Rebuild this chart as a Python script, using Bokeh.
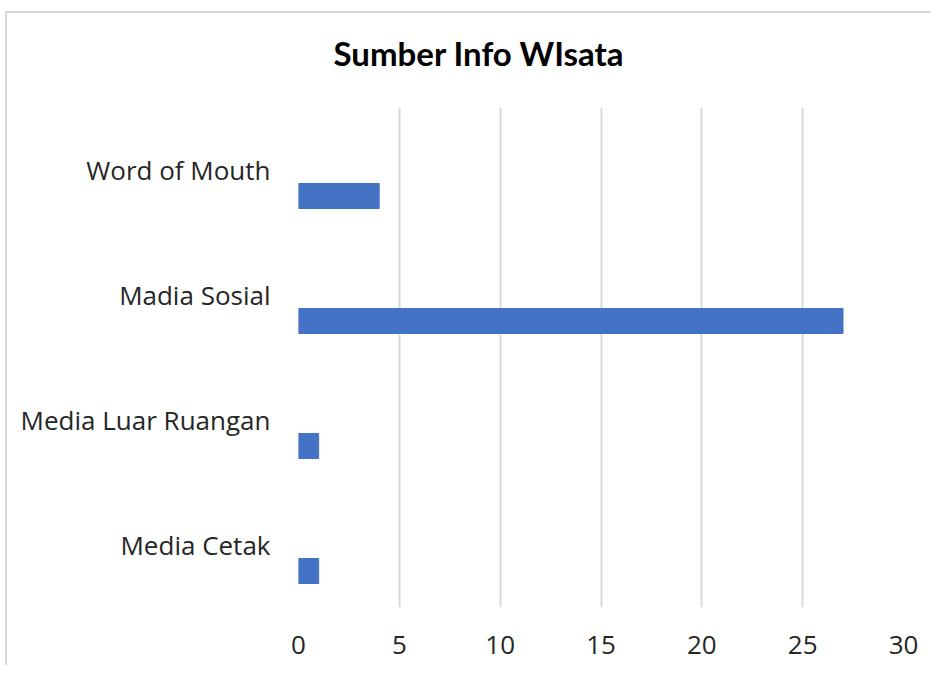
from bokeh.plotting import figure
from bokeh.models import FactorRange, Range1d, FixedTicker, Title
from bokeh.transform import dodge
from bokeh.embed import file_html
from bokeh.resources import INLINE

categories = ["Media Cetak", "Media Luar Ruangan", "Madia Sosial", "Word of Mouth"]
counts = [1, 1, 27, 4]
x_ticks = [0, 5, 10, 15, 20, 25, 30]
title_text = "Sumber Info WIsata"

p = figure(
    y_range=FactorRange(*categories, range_padding=0),
    x_range=Range1d(0, 30),
    frame_width=605, frame_height=500,
    min_border_left=291, min_border_right=28,
    min_border_top=94, min_border_bottom=58,
    output_backend="svg", toolbar_location=None,
)
p.styles = {"border-top": "2px solid #d9d9d9", "border-left": "2px solid #d9d9d9",
            "margin-top": "11px", "margin-left": "5px"}
p.outline_line_color = None
p.background_fill_color = "white"
p.border_fill_color = "white"

# spacer between frame and title
p.add_layout(Title(text=" ", text_font_size="1px", standoff=32), "above")
p.add_layout(Title(text=title_text, align="left", offset=35, standoff=0,
                   text_font="Lato", text_font_size="33px", text_font_style="bold",
                   text_color="black"), "above")

p.hbar(y=dodge("y", -0.208, range=p.y_range), right="x", height=0.2, left=0,
       source=dict(y=categories, x=counts),
       fill_color="#4472C4", line_color="#4472C4")

p.xaxis.ticker = FixedTicker(ticks=x_ticks)
for ax in (p.xaxis[0], p.yaxis[0]):
    ax.axis_line_color = None
    ax.major_tick_line_color = None
    ax.minor_tick_line_color = None
    ax.major_label_text_font = "Open Sans"
    ax.major_label_text_font_size = "26px"
    ax.major_label_text_color = "#262626"
p.xaxis.major_label_standoff = 22
p.yaxis.major_label_standoff = 22

p.xgrid.grid_line_color = "#d9d9d9"
p.xgrid.grid_line_width = 2
p.ygrid.grid_line_color = None

open("out.html", "w").write(file_html(p, INLINE))
